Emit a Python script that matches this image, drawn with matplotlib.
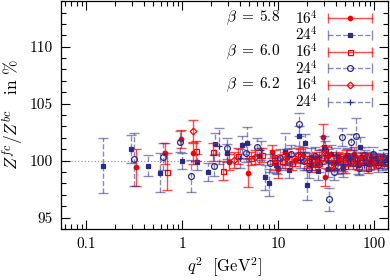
import numpy as np
import matplotlib
matplotlib.use("Agg")
import matplotlib.pyplot as plt
from matplotlib.ticker import FuncFormatter, LogLocator, MultipleLocator

plt.rcParams['font.family'] = 'serif'
plt.rcParams['font.serif'] = ['cmr10', 'DejaVu Serif']
plt.rcParams['mathtext.fontset'] = 'cm'
plt.rcParams['axes.unicode_minus'] = False
plt.rcParams['axes.formatter.use_mathtext'] = True

RED  = '#ff0000'
BLUE = '#2b2b8c'

# beta=5.8, 16^4 (red filled circles)
q_58_16 = [0.334, 0.66, 0.976, 1.30, 3.06, 4.83, 8.6, 10.0, 12.5, 15, 18, 22, 25, 29.5, 30.5,
           33, 38, 42, 48, 55, 62, 70, 80, 95, 110, 125]
z_58_16 = [99.42, 100.65, 101.9, 100.65, 99.9, 98.95, 100.79, 99.27, 100.3, 100.1, 100.5, 99.6,
           100.2, 102.1, 98.6, 100.4, 99.8, 100.3, 99.5, 100.0, 100.6, 99.7, 100.2, 100.1, 99.8, 100.0]
e_58_16 = [1.6, 0.9, 0.8, 0.9, 0.7, 1.3, 0.6, 0.8, 0.7, 0.6, 0.7, 0.6, 0.6, 1.1, 0.8,
           0.6, 0.6, 0.5, 0.6, 0.5, 0.6, 0.5, 0.5, 0.5, 0.4, 0.4]

# beta=5.8, 24^4 (blue filled squares)
q_58_24 = [0.149, 0.296, 0.438, 0.594, 1.0, 1.42, 1.85, 2.22, 2.91, 4.2, 4.78, 6.3, 7.36, 8.0,
           9.5, 11.8, 13, 16.4, 19.2, 19.8, 22, 26, 30, 33, 36, 41, 47, 52, 60, 68, 72, 80, 90,
           105, 120, 135]
z_58_24 = [99.56, 101.02, 99.56, 98.95, 99.97, 99.86, 98.99, 101.5, 100.65, 101.37, 101.57, 100.4,
           98.55, 98.08, 99.6, 100.79, 99.2, 102.15, 101.57, 97.85, 100.3, 99.1, 101.2, 99.3, 100.6,
           99.9, 99.4, 100.5, 100.2, 99.6, 101.2, 100.3, 99.9, 100.2, 99.8, 100.1]
e_58_24 = [2.4, 1.2, 0.9, 1.7, 0.7, 0.7, 0.8, 0.9, 0.8, 0.8, 1.4, 0.7, 1.1, 1.2,
           0.7, 1.6, 0.7, 0.9, 0.8, 1.3, 0.8, 0.8, 1.0, 0.7, 0.8, 0.7, 0.8, 0.6, 0.7, 0.8, 0.9, 0.6,
           0.6, 0.5, 0.6, 0.6]

# beta=6.0, 16^4 (red open squares)
q_60_16 = [0.703, 1.38, 2.08, 2.7, 3.8, 5.2, 6.8, 9.0, 11, 14, 17, 21, 24, 28, 32, 37, 44, 50,
           58, 66, 75, 86, 100, 115, 130]
z_60_16 = [99.04, 100.85, 100.79, 99.13, 100.4, 100.2, 100.5, 100.3, 100.0, 99.8, 100.4, 100.1,
           99.7, 100.3, 100.6, 99.9, 100.2, 99.5, 100.1, 99.8, 100.3, 99.4, 100.0, 100.2, 99.9]
e_60_16 = [1.6, 0.9, 0.8, 0.8, 0.7, 0.6, 0.6, 0.6, 0.6, 0.6, 0.6, 0.6, 0.5, 0.6, 0.6, 0.5, 0.5,
           0.6, 0.5, 0.5, 0.5, 0.5, 0.4, 0.4, 0.4]

# beta=6.0, 24^4 (blue open circles)
q_60_24 = [0.317, 0.63, 0.94, 1.24, 2.13, 2.91, 4.6, 6.0, 8.3, 10.5, 13.5, 16.6, 18.5, 21, 24,
           27, 31, 34, 38, 42, 46, 52, 58, 65, 70, 78, 88, 98, 110, 125, 138]
z_60_24 = [100.12, 100.35, 101.66, 98.66, 99.56, 101.08, 100.7, 101.22, 99.8, 100.2, 100.6, 103.2,
           100.0, 99.3, 100.4, 99.7, 100.9, 96.6, 99.0, 99.5, 102.05, 100.3, 101.6, 102.2, 99.4,
           100.5, 99.8, 100.6, 99.6, 100.3, 99.9]
e_60_24 = [2.3, 1.2, 0.9, 1.4, 0.9, 0.9, 0.8, 0.8, 0.8, 0.8, 0.8, 1.0, 0.8, 0.8, 0.8, 0.7, 0.8,
           1.0, 0.7, 0.7, 0.8, 0.7, 0.7, 1.5, 0.7, 0.7, 0.6, 0.6, 0.6, 0.6, 0.6]

# beta=6.2, 16^4 (red open diamonds)
q_62_16 = [1.31, 3.5, 5.8, 9.3, 12, 16, 20, 26, 31, 36, 43, 51, 60, 72, 85, 100, 118]
z_62_16 = [102.6, 100.1, 100.3, 99.8, 100.2, 100.5, 99.9, 100.0, 100.7, 99.6, 100.1, 100.4,
           99.8, 100.0, 100.3, 99.7, 100.1]
e_62_16 = [0.95, 0.7, 0.6, 0.6, 0.6, 0.6, 0.5, 0.5, 0.6, 0.5, 0.5, 0.5, 0.5, 0.4, 0.4, 0.4, 0.4]

# beta=6.2, 24^4 (blue pluses)
q_62_24 = [2.4, 4.0, 6.6, 9.8, 13, 17, 22, 27, 33, 40, 48, 56, 66, 78, 92, 108, 128]
z_62_24 = [101.3, 100.2, 100.9, 99.5, 100.4, 100.1, 99.8, 100.3, 99.9, 100.5, 99.7, 100.2,
           100.0, 99.6, 100.3, 100.1, 99.9]
e_62_24 = [1.6, 0.8, 0.8, 0.7, 0.7, 0.7, 0.6, 0.6, 0.6, 0.6, 0.6, 0.5, 0.5, 0.5, 0.5, 0.5, 0.5]

betas   = ['5.8', '', '6.0', '', '6.2', '']
volumes = ['16', '24', '16', '24', '16', '24']

series = [
    (q_58_16, z_58_16, e_58_16, RED,  '-',  'o', RED,    3.2),
    (q_58_24, z_58_24, e_58_24, BLUE, '--', 's', BLUE,   3.4),
    (q_60_16, z_60_16, e_60_16, RED,  '-',  's', 'none', 3.6),
    (q_60_24, z_60_24, e_60_24, BLUE, '--', 'o', 'none', 4.2),
    (q_62_16, z_62_16, e_62_16, RED,  '-',  'D', 'none', 3.4),
    (q_62_24, z_62_24, e_62_24, BLUE, '--', '+', BLUE,   5.0),
]

fig = plt.figure(figsize=(3.9, 2.8), dpi=100)
ax = fig.add_axes([0.157, 0.182, 0.838, 0.814])

ax.axhline(100, color='#999999', ls=':', lw=0.9, zorder=0)

# gnuplot-style key, one row per series: text, then |---o---|
key_top, key_step = 0.925, 0.0733
for i, (q, z, e, col, ls, mk, mfc, ms) in enumerate(series):
    ecol = matplotlib.colors.to_rgba(col, 0.55 if col == BLUE else 0.7)
    cont = ax.errorbar(q, z, yerr=e, fmt='none', ecolor=ecol, elinewidth=1.0,
                       capsize=3.5, capthick=1.0)
    for lc in cont[2]:
        lc.set_linestyle(ls)
    ax.plot(q, z, ls='none', marker=mk, ms=ms, mfc=mfc, mec=col, mew=0.9, color=col)

    yk = key_top - i * key_step
    if betas[i]:
        ax.text(0.670, yk, rf'$\beta\;=\;{betas[i]}$', transform=ax.transAxes,
                ha='right', va='center', fontsize=11)
    ax.text(0.786, yk, rf'${volumes[i]}^4$', transform=ax.transAxes,
            ha='right', va='center', fontsize=11)
    ax.plot([0.817, 0.951], [yk, yk], transform=ax.transAxes, color=ecol, ls=ls, lw=1.0,
            marker='|', ms=7, mew=1.0, clip_on=False)
    ax.plot([0.884], [yk], transform=ax.transAxes, ls='none', marker=mk, ms=ms, mfc=mfc,
            mec=col, mew=0.9, clip_on=False)

ax.set_xscale('log')
ax.set_xlim(0.055, 140)
ax.set_ylim(94, 114)
ax.yaxis.set_major_locator(MultipleLocator(5))
ax.yaxis.set_minor_locator(MultipleLocator(1))
ax.xaxis.set_major_locator(LogLocator(base=10, numticks=10))
ax.xaxis.set_minor_locator(LogLocator(base=10, subs=np.arange(2, 10), numticks=10))
ax.xaxis.set_major_formatter(FuncFormatter(lambda v, _: f'{v:g}'))
ax.set_yticks([95, 100, 105, 110])
ax.yaxis.set_major_formatter(FuncFormatter(lambda v, _: f'{v:g}'))
ax.tick_params(which='both', direction='in', top=True, right=True, labelsize=11, width=0.8)
ax.tick_params(which='major', length=6.5, pad=6)
ax.tick_params(which='minor', length=3.5)
for sp in ax.spines.values():
    sp.set_linewidth(0.9)

ax.set_xlabel(r'$q^2\ \ [\mathrm{GeV}^2]$', fontsize=12, labelpad=3.5)
ax.set_ylabel(r'$Z^{fc}/Z^{bc}\ \ \ \mathrm{in}\ \%$', fontsize=12.5, labelpad=3)

fig.savefig('out.png', dpi=100)
